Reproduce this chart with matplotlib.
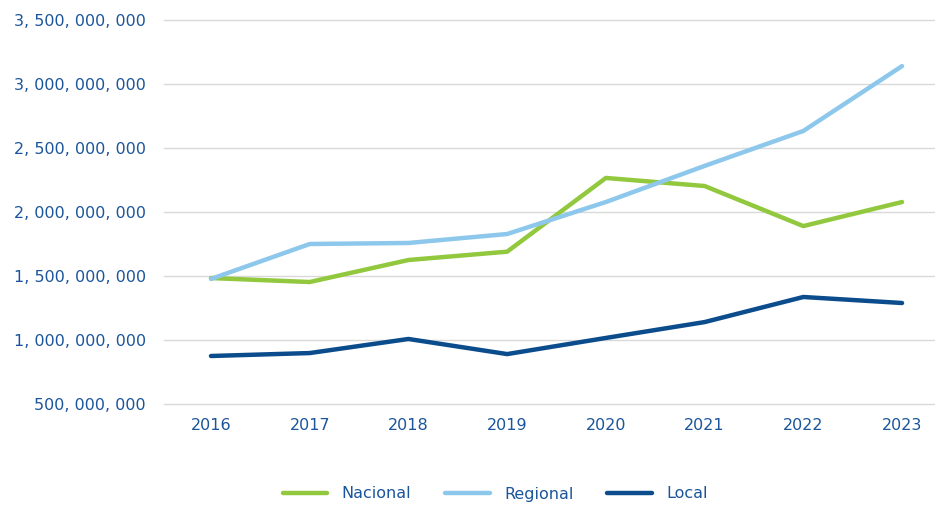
import matplotlib
matplotlib.use("Agg")
import matplotlib.pyplot as plt
from matplotlib.ticker import FuncFormatter

years = [2016, 2017, 2018, 2019, 2020, 2021, 2022, 2023]
nacional = [1.484e9, 1.453e9, 1.625e9, 1.690e9, 2.266e9, 2.203e9, 1.890e9, 2.078e9]
regional = [1.477e9, 1.750e9, 1.758e9, 1.828e9, 2.078e9, 2.360e9, 2.633e9, 3.140e9]
local = [0.875e9, 0.898e9, 1.008e9, 0.890e9, 1.016e9, 1.140e9, 1.336e9, 1.289e9]
y_ticks = [500e6, 1000e6, 1500e6, 2000e6, 2500e6, 3000e6, 3500e6]

TEXT = "#1b559b"
GREEN = "#92c83e"
LIGHT = "#8dc8ec"
DARK = "#0b4c8c"

plt.rcParams["font.family"] = ["DejaVu Sans"]

fig = plt.figure(figsize=(9.35, 5.08), dpi=100)
ax = fig.add_axes([164 / 935, 1 - 404 / 508, (951 - 164) / 935, (404 - 20) / 508])

lw = 3.2
ax.plot(years, nacional, color=GREEN, lw=lw, label="Nacional", solid_capstyle="round")
ax.plot(years, regional, color=LIGHT, lw=lw, label="Regional", solid_capstyle="round")
ax.plot(years, local, color=DARK, lw=lw, label="Local", solid_capstyle="round")

ax.set_xlim(2015.524, 2023.496)
ax.set_ylim(500e6, 3500e6)
ax.set_yticks(y_ticks)
ax.set_xticks(years)
ax.yaxis.set_major_formatter(FuncFormatter(lambda v, p: f"{int(v):,}".replace(",", ", ")))
ax.grid(axis="y", color="#d9d9d9", lw=1)
for gl in ax.get_ygridlines():
    gl.set_clip_on(False)
ax.set_axisbelow(True)
for s in ax.spines.values():
    s.set_visible(False)
ax.tick_params(axis="both", length=0, colors=TEXT, labelsize=11.5)
ax.tick_params(axis="y", pad=13)
ax.tick_params(axis="x", pad=10)

leg = fig.legend(loc="center", bbox_to_anchor=(495 / 935, 1 - 494 / 508), ncol=3,
                 frameon=False, fontsize=11.5, handlelength=2.8, columnspacing=2.1,
                 handletextpad=0.9)
for t in leg.get_texts():
    t.set_color(TEXT)

fig.savefig("out.png", dpi=100)
